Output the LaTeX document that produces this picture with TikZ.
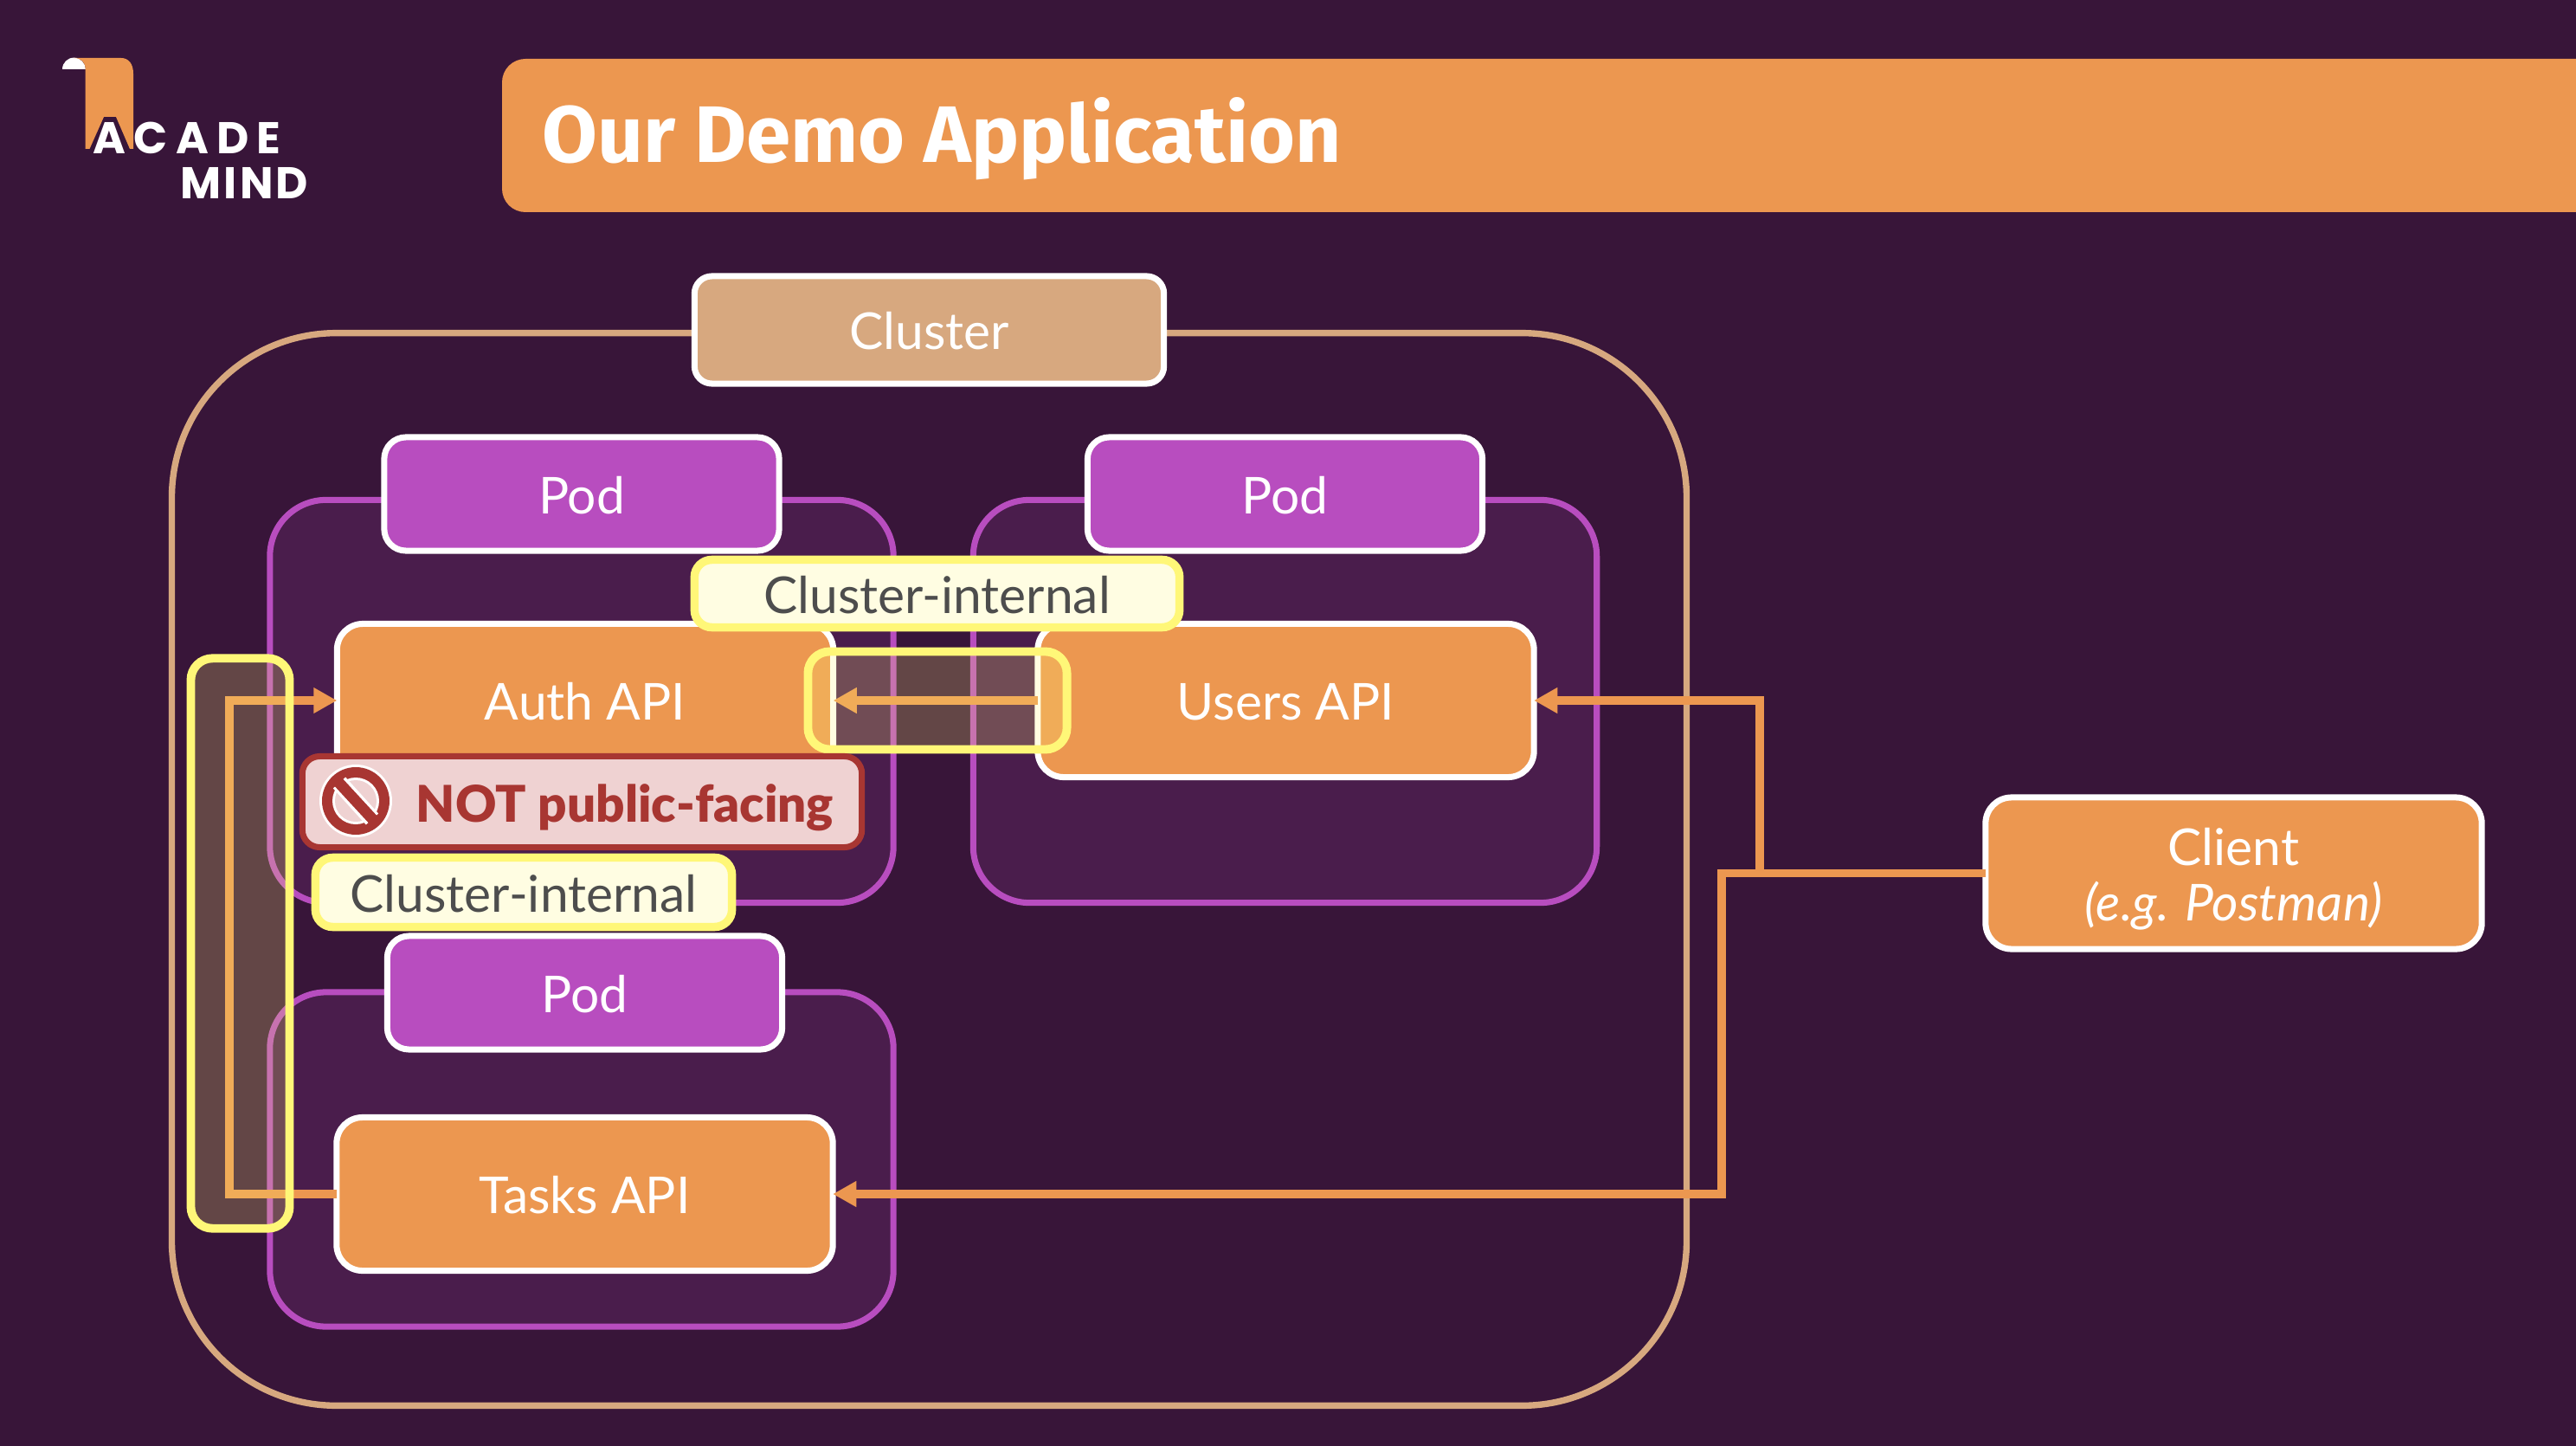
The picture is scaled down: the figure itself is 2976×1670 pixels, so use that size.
\documentclass[tikz,border=0pt]{standalone}
\usepackage{fontspec}
\setmainfont{Lato}
\newfontfamily\titlefont{Fira Sans}
\newfontfamily\warnfont{Lato Black}
\newfontfamily\logofonta[LetterSpace=18]{Poppins}
\newfontfamily\logofontb[LetterSpace=6]{Poppins}
\usetikzlibrary{arrows.meta}
\definecolor{bgdark}{HTML}{381539}
\definecolor{podback}{HTML}{4A1D4C}
\definecolor{podline}{HTML}{B84DBF}
\definecolor{apiorange}{HTML}{EC9750}
\definecolor{clustertan}{HTML}{D7A87F}
\definecolor{hiyellow}{HTML}{FFF778}
\definecolor{hicream}{HTML}{FFFDE2}
\definecolor{hitext}{HTML}{4D4D4D}
\definecolor{warnred}{HTML}{A83632}
\definecolor{warnpink}{HTML}{EFD2D2}
\tikzset{
    boxbase/.style={rectangle, outer sep=0pt, inner sep=0pt, align=center, text height=15.5pt, text depth=2.5pt, font=\fontsize{16.7}{18.4}\selectfont}, % all boxes
    apibox/.style={boxbase, draw=white, fill=apiorange, text=white, line width=2pt, rounded corners=0.3cm, minimum width=5.73cm, minimum height=1.77cm},
    podbox/.style={boxbase, draw=podline, fill=podback, line width=2pt, rounded corners=0.65cm, minimum width=7.2cm},
    podtag/.style={boxbase, draw=white, fill=podline, text=white, line width=2pt, rounded corners=0.25cm, minimum width=4.56cm, minimum height=1.31cm},
    hilite/.style={boxbase, draw=hiyellow, fill=hiyellow, fill opacity=0.22, draw opacity=1, line width=2.8pt, rounded corners=0.25cm},
    hitag/.style={boxbase, draw=hiyellow, fill=hicream, text=hitext, line width=2.7pt, rounded corners=0.2cm},
    flow/.style={draw=apiorange, line width=2.7pt},
    logotext/.style={anchor=base west, inner sep=0pt, text=white}
}

\begin{document}
\begin{tikzpicture}[x=0.01cm, y=-0.01cm]
    \fill[bgdark] (0,0) rectangle (2976,1670);
    \useasboundingbox (0,0) rectangle (2976,1670);

    % logo
    \fill[white] (72,80) arc[start angle=180, end angle=360, radius=13.4] -- cycle;
    \fill[apiorange] (85.4,67) .. controls (94,67) and (98.7,72) .. (98.7,80) -- (98.7,172) -- (103.5,172) -- (120,135) -- (134,135) -- (150,172) -- (154,172) -- (154,85) .. controls (154,73) and (148,67) .. (140,67) -- cycle;
    \node[logotext, font=\logofonta\bfseries\fontsize{14.6}{17}\selectfont] (logoa) at (107,178) {ACADE};
    \node[logotext, font=\logofontb\bfseries\fontsize{14.6}{17}\selectfont] (logob) at (208,230) {MIND};

    % title bar
    \fill[apiorange] (2976,68) [rounded corners=0.27cm] -- (580,68) -- (580,245) [sharp corners] -- (2976,245) -- cycle;
    \node[anchor=base west, inner sep=0pt, text=white, font=\titlefont\bfseries\fontsize{26.3}{31}\selectfont] (title) at (626,188) {Our Demo Application};

    % cluster
    \node[boxbase, draw=clustertan, line width=2.1pt, rounded corners=1.9cm, minimum width=17.49cm, minimum height=12.38cm] (cluster) at (1073.5,1004) {};
    \node[boxbase, draw=white, fill=clustertan, text=white, line width=2pt, rounded corners=0.2cm, minimum width=5.42cm, minimum height=1.24cm] (clustertag) at (1073.5,381) {Cluster};

    % pods
    \node[podbox, minimum height=4.65cm] (podauth) at (672,810) {};
    \node[podbox, minimum height=4.65cm] (podusers) at (1484.5,810) {};
    \node[podbox, minimum height=3.86cm] (podtasks) at (672,1339) {};
    \node[podtag] (tagauth) at (672,570.5) {Pod};
    \node[podtag] (tagusers) at (1484.5,570.5) {Pod};
    \node[podtag] (tagtasks) at (675.5,1146.5) {Pod};

    % services
    \node[apibox] (auth) at (676,809) {Auth API};
    \node[apibox] (users) at (1485.5,809) {Users API};
    \node[apibox] (tasks) at (675.5,1379) {Tasks API};
    \node[apibox, minimum height=1.75cm, text height=33.9pt] (client) at (2580.5,1008.5) {Client\\\textit{(e.g. Postman)}};

    % connections
    \coordinate (leftbus) at (265,1379);
    \coordinate (usersbus) at (2033,1008.5);
    \coordinate (tasksbus) at (1989,1008.5);
    \draw[flow, -{Triangle[length=7.7pt, width=8pt]}] (tasks.west) -- (leftbus) |- (auth.west);
    \draw[flow, -{Triangle[length=7.7pt, width=8pt]}] (users.west) -- (auth.east);
    \draw[flow, -{Triangle[length=7.7pt, width=8pt]}] (client.west) -- (usersbus) |- (users.east);
    \draw[flow, -{Triangle[length=7.7pt, width=8pt]}] (client.west) -- (tasksbus) |- (tasks.east);

    % highlighted connections
    \node[hilite, minimum width=2.99cm, minimum height=1.13cm] (himid) at (1083,809) {};
    \node[hilite, minimum width=1.14cm, minimum height=6.58cm] (hileft) at (277.5,1089.5) {};
    \node[hitag, minimum width=5.6cm, minimum height=0.78cm] (hitagtop) at (1082.5,685.5) {Cluster-internal};
    \node[hitag, minimum width=4.81cm, minimum height=0.8cm] (hitagleft) at (605,1030.5) {Cluster-internal};

    % warning
    \node[boxbase, draw=warnred, fill=warnpink, line width=2pt, rounded corners=0.2cm, minimum width=6.46cm, minimum height=1.05cm] (warn) at (672.5,926) {};
    \node[anchor=base west, inner sep=0pt, text=warnred, font=\warnfont\fontsize{16.6}{19}\selectfont] (warntext) at (480,949) {NOT public-facing};
    \fill[white] (411,925) circle[radius=42];
    \fill[warnred] (411,925) circle[radius=39];
    \fill[white] (411,925) circle[radius=27];
    \fill[warnpink] (411,925) circle[radius=24];
    \draw[white, line width=5.5pt] (392,904) -- (430,946);
    \draw[warnred, line width=3.6pt] (387,899) -- (435,951);
\end{tikzpicture}
\end{document}
